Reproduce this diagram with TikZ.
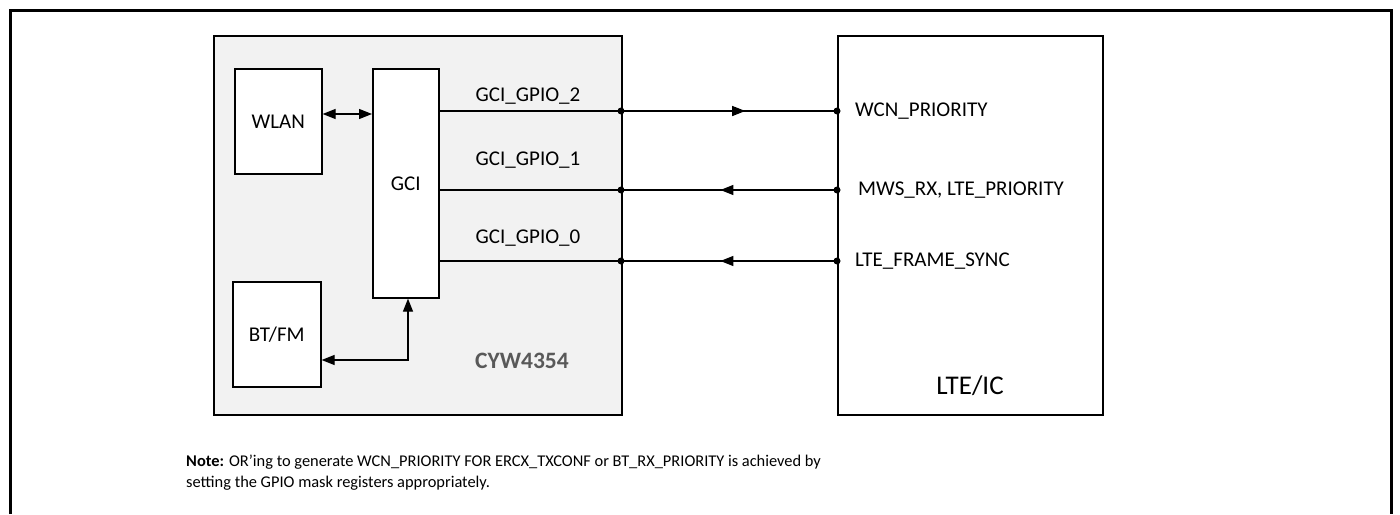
\documentclass[tikz,border=0pt]{standalone}
\usepackage{fontspec}
\setmainfont{Carlito}
\usetikzlibrary{arrows.meta,decorations.markings}
\definecolor{chipgray}{HTML}{F2F2F2}
\definecolor{labgray}{HTML}{595959}
\tikzset{
  blk/.style={draw=black,line width=1.6pt,fill=white,inner sep=0pt,anchor=north west},
  sig/.style={line width=1.2pt},
  lbl/.style={font=\fontsize{21}{24}\selectfont,inner sep=0pt},
  pin/.style={circle,fill=black,inner sep=0pt,minimum size=7pt},
  tipR/.tip={Triangle[length=13pt,width=10pt]},
}
\begin{document}
\begin{tikzpicture}[x=1pt,y=-1pt]
\useasboundingbox (0,0) rectangle (1400,514);
% outer frame (open at the bottom)
\draw[line width=3pt] (10.5,514) -- (10.5,10.5) -- (1391.5,10.5) -- (1391.5,514);
% chip
\node[blk,fill=chipgray,minimum width=408pt,minimum height=379pt] (chip) at (213,35) {};
\node[blk,minimum width=265pt,minimum height=379pt] (lte) at (837,35) {};
\node[blk,minimum width=87pt,minimum height=105pt] (wlan) at (234,68) {};
\node[blk,minimum width=66pt,minimum height=229pt] (gci) at (372,68) {};
\node[blk,minimum width=88pt,minimum height=105pt] (bt) at (232,281) {};
\node[lbl] at (wlan.center) {WLAN};
\node[lbl] at (gci.center) {GCI};
\node[lbl] at (bt.center) {BT/FM};
\node[lbl,font=\fontsize{23.5}{26}\selectfont\bfseries,text=labgray] (cyw) at (522,361) {CYW4354};
\node[lbl,font=\fontsize{27}{30}\selectfont] (lteic) at (970,386) {LTE/IC};
% pins
\coordinate (g2) at (438,111); \coordinate (g1) at (438,190); \coordinate (g0) at (438,261);
\node[pin] (l2) at (621,111) {}; \node[pin] (l1) at (621,190) {}; \node[pin] (l0) at (621,261) {};
\node[pin] (r2) at (837,111) {}; \node[pin] (r1) at (837,190) {}; \node[pin] (r0) at (837,261) {};
\draw[sig] (g2) -- (l2.center); \draw[sig] (g1) -- (l1.center); \draw[sig] (g0) -- (l0.center);
\draw[sig,postaction={decorate},decoration={markings,mark=at position 0.575 with {\arrow{tipR}}}] (l2.center) -- (r2.center);
\draw[sig,postaction={decorate},decoration={markings,mark=at position 0.54 with {\arrow{tipR}}}] (r1.center) -- (l1.center);
\draw[sig,postaction={decorate},decoration={markings,mark=at position 0.54 with {\arrow{tipR}}}] (r0.center) -- (l0.center);
\node[lbl] at (528,96) {GCI\_GPIO\_2};
\node[lbl] at (528,160) {GCI\_GPIO\_1};
\node[lbl] at (528,238) {GCI\_GPIO\_0};
\node[lbl,anchor=west] at (855,111) {WCN\_PRIORITY};
\node[lbl,anchor=west] at (858,190) {MWS\_RX, LTE\_PRIORITY};
\node[lbl,anchor=west] at (855,261) {LTE\_FRAME\_SYNC};
% internal connectors
\draw[sig,{tipR}-{tipR}] (wlan.east |- 0,114) -- (gci.west |- 0,114);
\coordinate (bend) at (408,360);
\draw[sig,{tipR}-{tipR}] (bt.east |- bend) -- (bend) -- (bend |- gci.south);
% note
\node[font=\fontsize{16.4}{20.5}\selectfont,align=left,anchor=north west,inner sep=0pt] (note) at (186,455)
 {\textbf{Note:} OR’ing to generate WCN\_PRIORITY FOR ERCX\_TXCONF or BT\_RX\_PRIORITY is achieved by\\ setting the GPIO mask registers appropriately.};
\end{tikzpicture}
\end{document}
